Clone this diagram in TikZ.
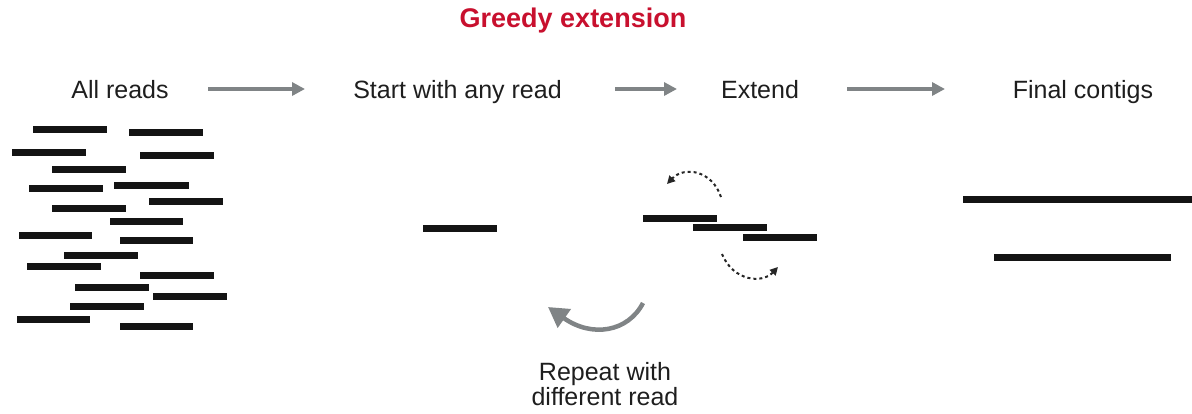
\documentclass[tikz,border=0pt]{standalone}
\usepackage{fontspec}
\setmainfont{Liberation Sans}
\usetikzlibrary{arrows.meta}
\definecolor{titlered}{RGB}{200,16,46}
\definecolor{flowgray}{RGB}{128,132,134}
\definecolor{inkdark}{RGB}{30,30,30}
\tikzset{
  label/.style={anchor=base, inner sep=0pt, text=inkdark, font=\fontsize{25}{30}\selectfont},
  flow/.style={draw=flowgray, line width=4pt, -{Triangle[length=13pt,width=13pt]}},
  read/.style={draw=black!92, line width=7pt, line cap=butt},
  hop/.style={draw=black!85, line width=2pt, dash pattern=on 3pt off 3pt, -{Triangle[length=8pt,width=8pt]}},
  repeatarrow/.style={draw=flowgray, line width=4.5pt, -{Triangle[length=20pt,width=22pt]}}
}
\begin{document}
\begin{tikzpicture}[x=1pt,y=-1pt]
\useasboundingbox (0,0) rectangle (1192,413);

% title
\node[anchor=base, inner sep=0pt, text=titlered, font=\fontsize{27}{32}\selectfont\bfseries] (title) at (573,27) {Greedy extension};

% stage labels
\node[label] (allreads) at (120,98) {All reads};
\node[label] (start) at (457.5,98) {Start with any read};
\node[label] (extend) at (760,98) {Extend};
\node[label] (final) at (1083,98) {Final contigs};

% arrows between stages
\coordinate (a1s) at (208,89); \coordinate (a1e) at (305,89);
\coordinate (a2s) at (615,89); \coordinate (a2e) at (677,89);
\coordinate (a3s) at (847,89); \coordinate (a3e) at (945,89);
\draw[flow] (a1s) -- (a1e);
\draw[flow] (a2s) -- (a2e);
\draw[flow] (a3s) -- (a3e);

% all reads
\foreach \xa/\xb/\yy in {
  33/107/129.5, 129/203/132.5, 12/86/152.5, 140/214/155,
  52/126/169, 29/103/188, 114/189/185.5, 149/223/201.5,
  52/126/208.5, 110/183/221.5, 19/92/235.5, 120/193/240.5,
  64/138/255, 27/101/266.5, 140/214/275, 75/149/287.5,
  153/227/296, 70/144/306, 17/90/319, 120/193/326.5}
  \draw[read] (\xa,\yy) -- (\xb,\yy);

% a single starting read
\draw[read] (423,228) -- (497,228);

% extension of the read on both sides
\draw[read] (643,218) -- (717,218);
\draw[read] (693,227) -- (767,227);
\draw[read] (743,237.5) -- (817,237.5);
\coordinate (h1s) at (721,197); \coordinate (h1e) at (667,184);
\coordinate (h2s) at (722,254); \coordinate (h2e) at (778,267);
\draw[hop] (h1s) .. controls (712,170) and (684,166) .. (h1e);
\draw[hop] (h2s) .. controls (733,281) and (762,284) .. (h2e);

% repeat loop
\coordinate (r1) at (643,303); \coordinate (r2) at (548,307);
\draw[repeatarrow] (r1) .. controls (628,332) and (592,338) .. (r2);
\node[label, align=center, font=\fontsize{25}{23}\selectfont] (repeat) at (605,405) {Repeat with\\different read};

% final contigs
\draw[read] (963,199) -- (1192,199);
\draw[read] (994,257) -- (1171,257);
\end{tikzpicture}
\end{document}
